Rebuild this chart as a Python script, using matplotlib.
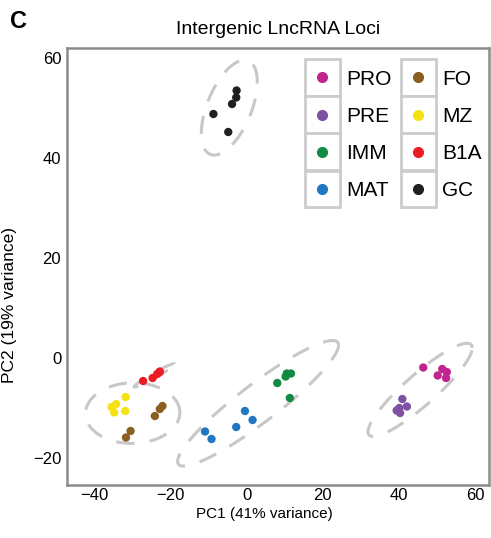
import matplotlib
matplotlib.use("Agg")
import matplotlib.pyplot as plt
import numpy as np
from matplotlib.legend_handler import HandlerBase
from matplotlib.lines import Line2D
from matplotlib.patches import Rectangle

plt.rcParams['font.family'] = ['Liberation Sans', 'DejaVu Sans']

# PCA scores
groups = ["PRO", "PRE", "IMM", "MAT", "FO", "MZ", "B1A", "GC"]
colors = ["#c2248f", "#7e52a0", "#118a43", "#2077c3", "#8b5e22", "#f5e216", "#ec1c24", "#231f20"]

pro_x = [46.4, 51.4, 52.6, 50.2, 52.4]
pro_y = [-2.0, -2.3, -2.9, -3.6, -4.1]
pre_x = [40.9, 42.1, 40.1, 39.4, 40.3]
pre_y = [-8.3, -9.8, -10.1, -10.6, -11.1]
imm_x = [8.0, 10.2, 10.5, 11.6, 11.3]
imm_y = [-5.1, -3.8, -3.2, -3.2, -8.1]
mat_x = [-0.5, 1.5, -2.8, -11.0, -9.3]
mat_y = [-10.7, -12.5, -13.9, -14.8, -16.3]
fo_x = [-22.2, -22.9, -24.2, -30.6, -31.8]
fo_y = [-9.7, -10.3, -11.7, -14.7, -16.0]
mz_x = [-31.9, -34.4, -35.6, -34.9, -32.0]
mz_y = [-7.9, -9.3, -9.9, -11.0, -10.7]
b1a_x = [-27.3, -24.8, -23.6, -23.1, -22.9]
b1a_y = [-4.7, -4.1, -3.3, -3.0, -2.8]
gc_x = [-2.7, -2.8, -3.9, -8.8, -4.9]
gc_y = [53.4, 52.0, 50.7, 48.7, 45.1]

xs = [pro_x, pre_x, imm_x, mat_x, fo_x, mz_x, b1a_x, gc_x]
ys = [pro_y, pre_y, imm_y, mat_y, fo_y, mz_y, b1a_y, gc_y]

# which groups share an ellipse
ellipse_sets = [["PRO", "PRE"], ["IMM", "MAT"], ["FO", "MZ"], ["B1A"], ["GC"]]


def ellipse_path(x, y, level=0.90, npts=200):
    # like ggplot stat_ellipse(type="t"), but with plain covariance
    pts = np.column_stack([x, y])
    n = len(pts)
    center = pts.mean(axis=0)
    cov = np.cov(pts, rowvar=False)
    dfd = n - 1
    fq = dfd / 2.0 * ((1 - level) ** (-2.0 / dfd) - 1)  # F(2, dfd) quantile
    radius = np.sqrt(2 * fq)
    chol = np.linalg.cholesky(cov)
    t = np.linspace(0, 2 * np.pi, npts)
    circ = np.column_stack([np.cos(t), np.sin(t)])
    return center + radius * circ @ chol.T


class BoxDot(HandlerBase):
    # grey key box with a dot, ggplot style
    def create_artists(self, legend, orig_handle, xdescent, ydescent,
                       width, height, fontsize, trans):
        bw, bh = 25.2, 26.4
        cx = width / 2 - xdescent
        cy = 0.36 * fontsize
        box = Rectangle((cx - bw / 2, cy - bh / 2), bw, bh, facecolor="white",
                        edgecolor="#cccccc", lw=2.0, transform=trans)
        dot = Line2D([cx], [cy], marker="o", color=orig_handle.get_color(),
                     ms=7, ls="", transform=trans)
        return [box, dot]


fig = plt.figure(figsize=(4.91, 5.38), dpi=100)
ax = fig.add_axes([66.7 / 491, 1 - 485 / 538, (489 - 66.7) / 491, (485 - 48) / 538])

for members in ellipse_sets:
    ex = np.concatenate([xs[groups.index(m)] for m in members])
    ey = np.concatenate([ys[groups.index(m)] for m in members])
    p = ellipse_path(ex, ey)
    ax.plot(p[:, 0], p[:, 1], color="#c8c8c8", lw=2.2, ls=(0, (6, 5)), zorder=1)

handles = []
for g, c, x, y in zip(groups, colors, xs, ys):
    ax.scatter(x, y, s=36, color=c, edgecolors="none", zorder=3)
    handles.append(Line2D([], [], color=c, marker="o", ls=""))

ax.set_xlim(-47.4, 63.7)
ax.set_ylim(-25.5, 61.9)
ax.set_xticks([-40, -20, 0, 20, 40, 60])
ax.set_yticks([-20, 0, 20, 40, 60])
ax.tick_params(length=0, labelsize=12)
ax.tick_params(axis="x", pad=2.5)
ax.tick_params(axis="y", pad=4)
for s in ax.spines.values():
    s.set_color("#8c8c8c")
    s.set_linewidth(1.8)

ax.set_xlabel("PC1 (41% variance)", fontsize=11)
ax.set_ylabel("PC2 (19% variance)", fontsize=12.5)
ax.xaxis.set_label_coords(0.468, -0.05)
ax.yaxis.set_label_coords(-0.118, 0.412)
ax.set_title("Intergenic LncRNA Loci", fontsize=14, pad=10)
fig.text(0.02, 0.981, "C", fontsize=17, fontweight="bold", ha="left", va="top")

ax.legend(handles, groups, ncol=2, loc="upper left", bbox_to_anchor=(0.564, 0.953),
          frameon=False, fontsize=15, handler_map={Line2D: BoxDot()},
          handlelength=1.68, handleheight=1.0, labelspacing=0.8,
          handletextpad=0.3, columnspacing=0.45, borderpad=0, borderaxespad=0)

fig.savefig("out.png", dpi=100)
